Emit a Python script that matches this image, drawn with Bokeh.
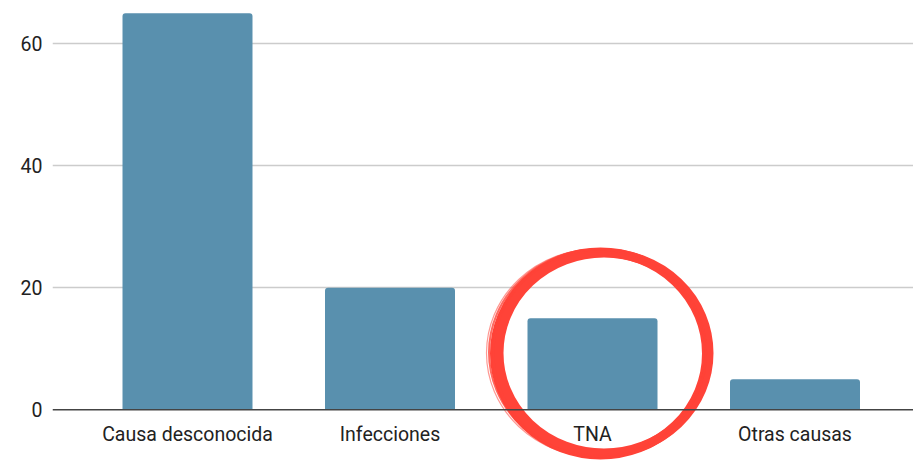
from bokeh.plotting import figure
from bokeh.models import Range1d, FixedTicker, Span, ColumnDataSource
from bokeh.core.properties import value
from bokeh.embed import file_html
from bokeh.resources import INLINE

categories = ["Causa desconocida", "Infecciones", "TNA", "Otras causas"]
values = [65, 20, 15, 5]
y_ticks = [0, 20, 40, 60]
highlight = "TNA"

BAR_COLOR = "#5990AE"
RING_COLOR = "#FF4338"
FONT = "Roboto"

xs = list(range(len(categories)))
src = ColumnDataSource(dict(x=xs, top=values, name=categories))

PX_PER_X = 202.5
PX_PER_Y = 6.1
FRAME_W, FRAME_H = 861, 463
ZERO_PX = 409.3  # pixel row of y = 0 from top

x_start = -(187 - 52) / PX_PER_X
x_end = x_start + FRAME_W / PX_PER_X
y_end = ZERO_PX / PX_PER_Y
y_start = y_end - FRAME_H / PX_PER_Y

p = figure(
    frame_width=FRAME_W, frame_height=FRAME_H,
    x_range=Range1d(x_start, x_end), y_range=Range1d(y_start, y_end),
    output_backend="svg", toolbar_location=None,
    min_border_left=52, min_border_right=0, min_border_top=0, min_border_bottom=0,
)
p.outline_line_color = None
p.background_fill_color = "white"
p.border_fill_color = "white"
p.xaxis.visible = False
p.xgrid.visible = False

yax = p.yaxis[0]
yax.ticker = FixedTicker(ticks=y_ticks)
yax.axis_line_color = None
yax.major_tick_line_color = None
yax.minor_tick_line_color = None
yax.major_tick_out = 0
yax.major_tick_in = 0
yax.major_label_standoff = 10
yax.major_label_text_font = FONT
yax.major_label_text_font_size = "19.5px"
yax.major_label_text_color = "#222222"

p.ygrid.ticker = FixedTicker(ticks=[t for t in y_ticks if t != 0])
p.ygrid.grid_line_color = "#CCCCCC"
p.ygrid.grid_line_width = 1.3

p.vbar(x="x", top="top", bottom=0, width=130 / PX_PER_X, source=src,
       fill_color=BAR_COLOR, line_color=None, border_radius=(3, 3, 0, 0))

p.add_layout(Span(location=0, dimension="width", line_color="#444444", line_width=1.6))

p.text(x="x", y=-(434.0 - ZERO_PX) / PX_PER_Y, text="name", source=src,
       text_font=value(FONT), text_font_size="19.5px", text_color="#222222",
       text_align="center", text_baseline="middle")

# hand-drawn style ring around the highlighted category
hi = categories.index(highlight)
cx = hi + (600 - 593) / PX_PER_X
cy = (ZERO_PX - 353) / PX_PER_Y
strokes = [
    (1.0, 0.0, 212, 203, 9, 1.0),
    (4.5, 0.5, 210, 200, 9, 1.0),
    (-2.0, 1.0, 217, 206, 2, 0.8),
    (-3.0, 0.5, 220, 208, 1.2, 0.55),
    (-1.0, -0.5, 214, 205, 1.5, 0.7),
]
for dx, dy, w, h, lw, a in strokes:
    p.ellipse(x=cx + dx / PX_PER_X, y=cy + dy / PX_PER_Y, width=w, height=h,
              width_units="screen", height_units="screen",
              fill_color=None, line_color=RING_COLOR, line_width=lw, line_alpha=a)

open("out.html", "w").write(file_html(p, INLINE))
